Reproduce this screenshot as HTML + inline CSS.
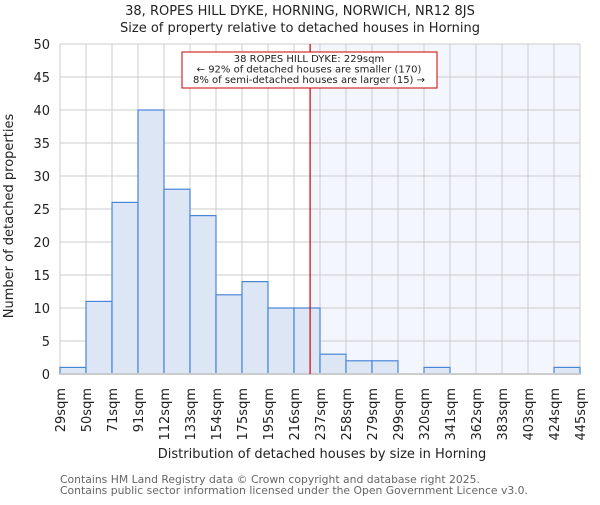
<!DOCTYPE html>
<html><head><meta charset="utf-8"><style>
body{margin:0;background:#fff;}
svg text{font-family:"DejaVu Sans","Liberation Sans",sans-serif;fill:#222;}
</style></head><body>
<svg id="chart" width="600" height="500" xmlns="http://www.w3.org/2000/svg">
<text x="300" y="15" text-anchor="middle" font-size="13">38, ROPES HILL DYKE, HORNING, NORWICH, NR12 8JS</text>
<text x="300" y="32" text-anchor="middle" font-size="13">Size of property relative to detached houses in Horning</text>
<g id="grid"></g><g id="bars"></g><g id="ticks"></g>
<text transform="translate(13,216) rotate(-90)" text-anchor="middle" font-size="13">Number of detached properties</text>
<text x="322" y="458" text-anchor="middle" font-size="13">Distribution of detached houses by size in Horning</text>
<text x="60" y="483" font-size="10.8" style="fill:#666">Contains HM Land Registry data © Crown copyright and database right 2025.</text>
<text x="60" y="494" font-size="10.8" style="fill:#666">Contains public sector information licensed under the Open Government Licence v3.0.</text>
</svg>
<script>
const labels=["29sqm","50sqm","71sqm","91sqm","112sqm","133sqm","154sqm","175sqm","195sqm","216sqm","237sqm","258sqm","279sqm","299sqm","320sqm","341sqm","362sqm","383sqm","403sqm","424sqm","445sqm"];
const counts=[1,11,26,40,28,24,12,14,10,10,3,2,2,0,1,0,0,0,0,1];
const yTicks=[0,5,10,15,20,25,30,35,40,45,50];
const marker=229;
const edges=[29,50,71,91,112,133,154,175,195,216,237,258,279,299,320,341,362,383,403,424,445];
const L=60,R=580,T=44,B=374,NS="http://www.w3.org/2000/svg";
const bw=(R-L)/counts.length;
const x=i=>L+i*bw, y=v=>B-(B-T)*v/50;
function mk(p,t,a){const e=document.createElementNS(NS,t);for(const k in a)e.setAttribute(k,a[k]);document.getElementById(p).appendChild(e);return e;}
let k=0;while(k<edges.length-1&&edges[k+1]<marker)k++;
const mx=x(k)+bw*(marker-edges[k])/(edges[k+1]-edges[k]);
let sh=mk("grid","rect",{x:mx,y:T,width:R-mx,height:B-T,fill:"#f3f6fd"});


for(let i=0;i<=counts.length;i++){let g=mk("grid","line",{x1:x(i),x2:x(i),y1:T,y2:B,stroke:"#ccc"});


let t=mk("ticks","text",{transform:`translate(${x(i)+5},388) rotate(-90)`,"text-anchor":"end","font-size":"13"});t.textContent=labels[i];

}
yTicks.forEach(v=>{let g=mk("grid","line",{x1:L,x2:R,y1:y(v),y2:y(v),stroke:"#ccc"});


let t=mk("ticks","text",{x:50,y:y(v)+5,"text-anchor":"end","font-size":"13"});t.textContent=v;

});
counts.forEach((c,i)=>{if(!c)return;let r=mk("bars","rect",{x:x(i),y:y(c),width:bw,height:B-y(c),fill:"#dce6f5",stroke:"#4a86d8","stroke-width":1.2});

});
let ax=mk("bars","line",{x1:L,x2:R,y1:B,y2:B,stroke:"#ccc","stroke-width":2});


let ml=mk("bars","line",{x1:mx,x2:mx,y1:T,y2:B,stroke:"#cc0000","stroke-width":1.2});


let bx=mk("bars","rect",{x:182,y:52,width:255,height:36,fill:"#fff",stroke:"#cc0000"});


["38 ROPES HILL DYKE: 229sqm","← 92% of detached houses are smaller (170)","8% of semi-detached houses are larger (15) →"].forEach((s,i)=>{let t=mk("bars","text",{x:309,y:62+i*10.5,"text-anchor":"middle","font-size":"10"});t.textContent=s;

});
</script>
</body></html>
